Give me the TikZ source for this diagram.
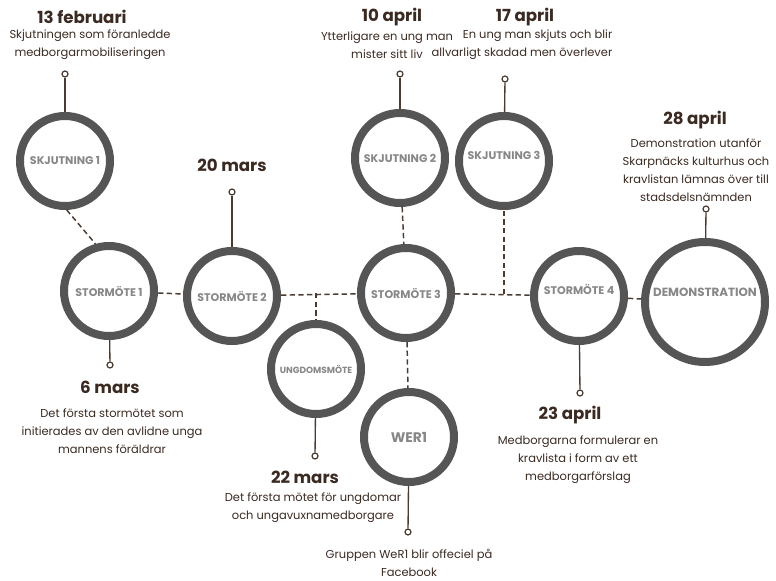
\documentclass[tikz,border=0pt]{standalone}
\usepackage{fontspec}
\setmainfont{Poppins}
\usetikzlibrary{positioning}

\definecolor{ringgray}{HTML}{555555}
\definecolor{labelgray}{HTML}{878787}
\definecolor{ink}{HTML}{3A2A22}
\definecolor{wire}{HTML}{4A3A30}

\newcommand{\lifted}[2]{\raisebox{#1}[\height][\depth]{#2}}

\tikzset{
  event/.style={circle, draw=ringgray, line width=6pt, minimum size=67.5pt, inner sep=0pt,
    fill=white, text=labelgray, font=\fontsize{8.3}{9}\selectfont\bfseries},
  bigevent/.style={event, minimum size=90pt},
  link/.style={draw=wire, line width=1.1pt, dash pattern=on 4pt off 2.5pt},
  stem/.style={draw=wire, line width=1pt},
  pin/.style={circle, draw=wire, line width=0.9pt, fill=white, minimum size=4.5pt, inner sep=0pt},
  date/.style={text=ink, font=\fontsize{12.5}{14}\selectfont\bfseries},
  note/.style={text=ink, align=center, font=\fontsize{8.6}{13.5}\selectfont},
}

\begin{document}
\begin{tikzpicture}[x=0.75pt, y=-0.75pt]
  \useasboundingbox (0,0) rectangle (776,581);

  % the meetings and events
  \node[event] (skj1) at (65,161) {SKJUTNING 1};
  \node[event] (sm1) at (109,291) {STORMÖTE 1};
  \node[event] (sm2) at (232,296) {STORMÖTE 2};
  \node[event, font=\fontsize{6.7}{7}\selectfont\bfseries] (ung) at (316,369) {UNGDOMSMÖTE};
  \node[event] (sm3) at (406,293) {STORMÖTE 3};
  \node[event] (skj2) at (400,158) {SKJUTNING 2};
  \node[event] (skj3) at (504,161) {\lifted{4.5pt}{SKJUTNING 3}};
  \node[event, font=\fontsize{10.4}{11}\selectfont\bfseries] (wer1) at (409,437) {WER1};
  \node[event] (sm4) at (579,296) {\lifted{5pt}{STORMÖTE 4}};
  \node[bigevent, font=\fontsize{8.9}{10}\selectfont\bfseries] (demo) at (705,302) {\lifted{7.5pt}{DEMONSTRATION}};

  \coordinate (j1) at (316,293);
  \coordinate (j2) at (504,294);

  % dashed links
  \draw[link] (skj1.-88) -- (sm1.106);
  \draw[link] (sm1) -- (sm2);
  \draw[link] (sm2) -- (sm3);
  \draw[link] (j1) -- (ung);
  \draw[link] (skj2) -- (sm3);
  \draw[link] (sm3) -- (wer1);
  \draw[link] (sm3) -- (sm4);
  \draw[link] (j2) -- (skj3);
  \draw[link] (sm4) -- (demo);

  % pins
  \node[pin] (p1) at (65,74) {};
  \node[pin] (p2) at (232,192) {};
  \node[pin] (p3) at (400,74) {};
  \node[pin] (p4) at (505,79) {};
  \node[pin] (p5) at (706,209) {};
  \node[pin] (p6) at (110,365) {};
  \node[pin] (p7) at (315,456) {};
  \node[pin] (p8) at (408,532) {};
  \node[pin] (p9) at (580,393) {};

  \draw[stem] (skj1) -- (p1);
  \draw[stem] (sm2) -- (p2);
  \draw[stem] (skj2) -- (p3);
  \draw[stem] (skj3) -- (p4);
  \draw[stem] (demo) -- (p5);
  \draw[stem] (sm1) -- (p6);
  \draw[stem] (ung) -- (p7);
  \draw[stem] (wer1) -- (p8);
  \draw[stem] (sm4) -- (p9);

  % dates and notes
  \node[date] (d1) at (82,17) {13 februari};
  \node[note] (n1) at (90,45) {Skjutningen som föranledde\\medborgarmobiliseringen};
  \node[date] (d2) at (232,165) {20 mars};
  \node[date] (d3) at (392,17) {10 april};
  \node[note] (n3) at (387,45) {Ytterligare en ung man\\mister sitt liv};
  \node[date] (d4) at (525,17) {17 april};
  \node[note, align=right, anchor=east] (n4) at (617,45) {En ung man skjuts och blir\\allvarligt skadad men överlever};
  \node[date] (d5) at (695,120) {28 april};
  \node[note] (n5) at (696,170) {Demonstration utanför\\Skarpnäcks kulturhus och\\kravlistan lämnas över till\\stadsdelsnämnden};
  \node[date] (d6) at (110,387) {6 mars};
  \node[note] (n6) at (112,431) {Det första stormötet som\\initierades av den avlidne unga\\mannens föräldrar};
  \node[date] (d7) at (305,477) {22 mars};
  \node[note] (n7) at (313,508) {Det första mötet för ungdomar\\och ungavuxnamedborgare};
  \node[note] (n8) at (409,563) {Gruppen WeR1 blir offeciel på\\Facebook};
  \node[date] (d9) at (570,415) {23 april};
  \node[note] (n9) at (578,460) {Medborgarna formulerar en\\kravlista i form av ett\\medborgarförslag};
\end{tikzpicture}
\end{document}
